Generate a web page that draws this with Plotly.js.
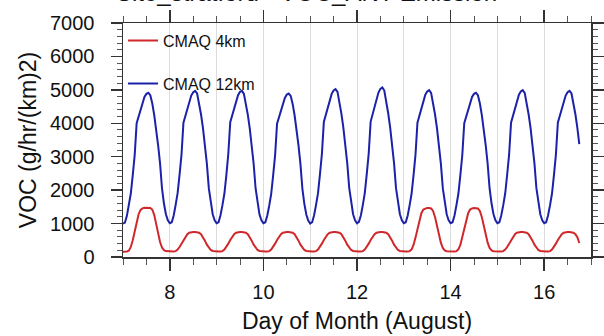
<!DOCTYPE html>
<html>
<head>
<meta charset="utf-8">
<script src="https://cdn.plot.ly/plotly-3.0.1.min.js"></script>
<style>html,body{margin:0;padding:0;background:#fff;}#chart{width:604px;height:336px;}</style>
</head>
<body>
<div id="chart"></div>
<script>
// Day of month (August), hourly values starting at hour 0 of each day
const days = [7, 8, 9, 10, 11, 12, 13, 14, 15, 16];
const hoursOfDay = [0,1,2,3,4,5,6,7,8,9,10,11,12,13,14,15,16,17,18,19,20,21,22,23];

// CMAQ 4km VOC emission (g/hr/(km)2), one row per day
const cmaq4kmByDay = [
  [160,160,165,190,300,500,780,1050,1280,1410,1455,1470,1475,1475,1465,1420,1260,990,690,450,280,205,178,170],
  [170,165,165,175,220,300,400,510,610,680,725,740,745,745,740,725,680,600,490,370,270,210,180,170],
  [170,165,165,175,220,300,400,510,610,680,725,742,748,748,742,725,680,600,490,370,270,210,180,170],
  [170,165,165,175,220,300,400,510,610,680,725,740,745,745,740,725,680,600,490,370,270,210,180,170],
  [170,165,165,175,220,300,400,510,610,682,728,745,750,750,744,727,682,600,490,370,270,210,180,170],
  [170,165,165,175,220,300,400,510,610,682,728,745,750,750,744,727,682,600,490,370,270,210,180,170],
  [170,165,165,175,230,360,580,850,1110,1310,1420,1455,1468,1468,1452,1380,1200,940,660,430,270,200,175,170],
  [170,165,165,175,230,360,585,860,1115,1310,1420,1455,1462,1462,1450,1380,1200,940,660,430,270,200,175,170],
  [170,165,165,175,220,300,400,510,610,680,725,740,745,745,740,725,680,600,490,370,270,210,180,170],
  [170,165,165,175,220,300,400,510,610,680,725,740,745,745,740,725,680,590,420]
];

// CMAQ 12km VOC emission (g/hr/(km)2), one row per day
const cmaq12kmByDay = [
  [1000,1030,1230,1550,1900,2450,3050,4000,4200,4420,4620,4790,4880,4910,4840,4600,4250,3850,3350,2800,2050,1600,1280,1100],
  [1010,1040,1240,1560,1910,2460,3060,4020,4230,4450,4660,4830,4930,4970,4890,4630,4270,3860,3360,2800,2060,1600,1280,1100],
  [1010,1040,1250,1550,1900,2450,3080,4030,4240,4460,4660,4840,4940,4970,4880,4620,4260,3850,3350,2790,2050,1590,1270,1100],
  [1010,1040,1240,1540,1890,2440,3040,3990,4190,4400,4600,4760,4860,4890,4820,4580,4240,3840,3340,2780,2040,1590,1270,1090],
  [1000,1040,1250,1560,1910,2470,3080,4040,4260,4490,4700,4880,4980,5020,4940,4660,4290,3870,3370,2810,2070,1610,1280,1100],
  [1010,1050,1250,1560,1920,2480,3090,4050,4280,4510,4730,4920,5030,5070,4980,4690,4300,3880,3370,2810,2060,1600,1280,1100],
  [1010,1040,1240,1550,1900,2450,3060,4020,4240,4460,4670,4850,4950,4990,4910,4640,4270,3860,3360,2800,2060,1600,1280,1100],
  [1010,1040,1240,1550,1900,2450,3050,4000,4210,4420,4620,4790,4880,4910,4840,4600,4250,3850,3350,2790,2050,1600,1280,1100],
  [1010,1040,1250,1550,1900,2460,3060,4020,4240,4460,4670,4850,4950,4990,4910,4640,4270,3860,3360,2800,2060,1600,1280,1100],
  [1010,1040,1250,1550,1900,2450,3060,4020,4230,4450,4660,4830,4930,4970,4890,4630,4270,3860,3380]
];

const xTickVals = [8, 10, 12, 14, 16];
const xTickText = ['8', '10', '12', '14', '16'];
const seriesNames = ['CMAQ 4km', 'CMAQ 12km'];
const titleText = 'Site_stratford - VOC_ANT Emission';

function flatten(byDay) {
  const xs = [], ys = [];
  byDay.forEach((row, i) => {
    row.forEach((v, h) => {
      xs.push(days[i] + hoursOfDay[h] / 24);
      ys.push(v);
    });
  });
  return {xs, ys};
}

const s4 = flatten(cmaq4kmByDay);
const s12 = flatten(cmaq12kmByDay);

const traces = [
  {x: s4.xs, y: s4.ys, type: 'scatter', mode: 'lines', name: seriesNames[0],
   legendgroup: 'a', line: {color: '#d0282a', width: 2}},
  {x: s12.xs, y: s12.ys, type: 'scatter', mode: 'lines', name: seriesNames[1],
   legendgroup: 'b', line: {color: '#1c22a8', width: 2}},
  {x: [], y: [], xaxis: 'x2', type: 'scatter', mode: 'lines', showlegend: false, hoverinfo: 'skip'}
];

const axisColor = '#333';
const layout = {
  width: 604, height: 336,
  margin: {l: 123, r: 13, t: 23, b: 79, pad: 0},
  paper_bgcolor: '#fff', plot_bgcolor: '#fff',
  font: {family: 'Liberation Sans, Arial, Helvetica, sans-serif', color: '#111'},
  showlegend: true,
  legend: {x: 0.0, y: 0.997, xanchor: 'left', yanchor: 'top', bgcolor: 'rgba(0,0,0,0)',
           borderwidth: 0, font: {size: 16, color: '#111'}, tracegroupgap: 19, itemwidth: 30,
           traceorder: 'grouped'},
  xaxis: {
    range: [7, 17], tickmode: 'array', tickvals: xTickVals, ticktext: xTickText,
    ticks: 'outside', ticklen: 12, tickwidth: 1.5, tickcolor: axisColor,
    showline: true, linecolor: axisColor, linewidth: 1.5, mirror: 'ticks',
    showgrid: false, zeroline: false, tickfont: {size: 20, color: '#111'},
    ticklabelstandoff: 4,
    minor: {tick0: 7, dtick: 0.5, ticks: 'outside', ticklen: 6, tickwidth: 1, tickcolor: '#555', showgrid: false},
    title: {text: 'Day of Month (August)', font: {size: 23, color: '#111'}, standoff: 11}
  },
  xaxis2: {
    overlaying: 'x', range: [7, 17], tick0: 7, dtick: 1, showgrid: true, gridcolor: '#dcdcdc',
    gridwidth: 1, showticklabels: false, ticks: '', showline: false, zeroline: false
  },
  yaxis: {
    range: [0, 7000], tick0: 0, dtick: 1000,
    ticks: 'outside', ticklen: 11, tickwidth: 1.5, tickcolor: axisColor,
    showline: true, linecolor: axisColor, linewidth: 1.5, mirror: 'ticks',
    showgrid: false, zeroline: false, tickfont: {size: 20, color: '#111'},
    ticklabelstandoff: 12,
    minor: {dtick: 200, ticks: 'outside', ticklen: 5, tickwidth: 1, tickcolor: '#555', showgrid: false},
    title: {text: 'VOC (g/hr/(km)2)', font: {size: 23, color: '#111'}, standoff: 7}
  },
  annotations: [{
    text: titleText, xref: 'paper', yref: 'paper', x: 0.393, y: 1.129,
    xanchor: 'center', yanchor: 'middle', showarrow: false,
    font: {size: 24, color: '#111'}
  }]
};

Plotly.newPlot('chart', traces, layout, {staticPlot: true, displayModeBar: false});
</script>
</body>
</html>
